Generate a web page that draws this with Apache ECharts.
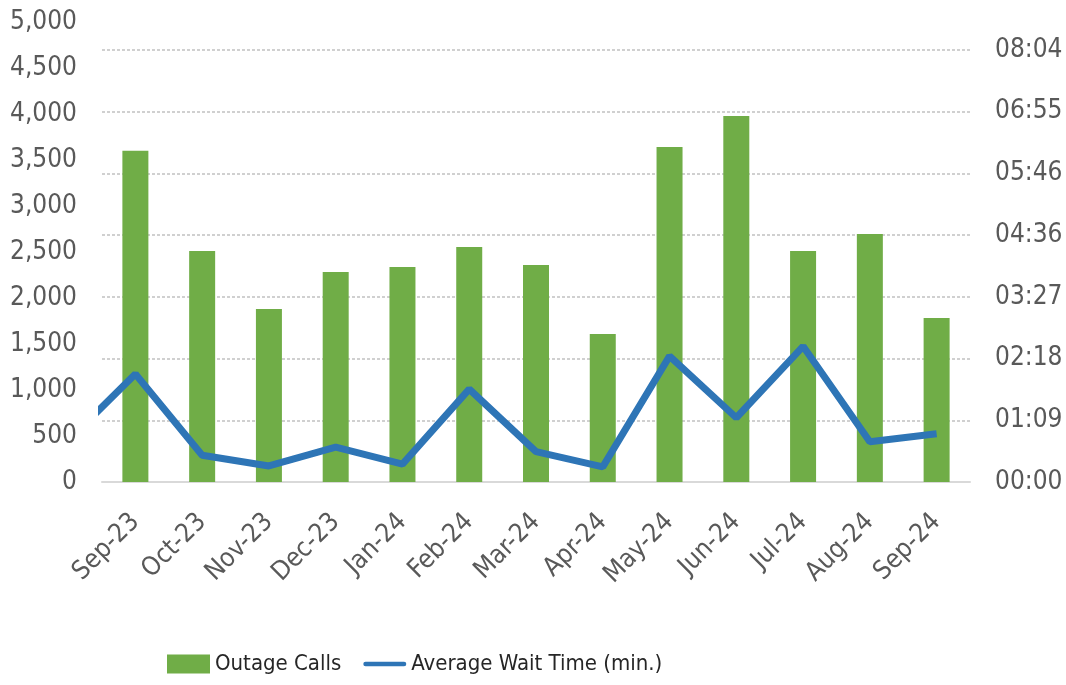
<!DOCTYPE html>
<html>
<head>
<meta charset="utf-8">
<script src="https://cdn.jsdelivr.net/npm/echarts@6/dist/echarts.min.js"></script>
<style>
  html, body { margin: 0; padding: 0; background: #fff; }
  #chart { width: 1066px; height: 685px; }
</style>
</head>
<body>
<div id="chart"></div>
<script>
  // months shown on the axis
  var months = ['Sep-23', 'Oct-23', 'Nov-23', 'Dec-23', 'Jan-24', 'Feb-24', 'Mar-24',
                'Apr-24', 'May-24', 'Jun-24', 'Jul-24', 'Aug-24', 'Sep-24'];
  // outage calls per month (left axis)
  var outageCalls = [3600, 2510, 1880, 2283, 2337, 2554, 2359, 1609, 3641, 3978, 2511, 2696, 1783];
  // average wait time in seconds (right axis); first value is Aug-23, cut off at the left edge
  var waitPrev = 47;
  var waitSeconds = [121, 30, 18, 39, 20, 104, 34, 17, 141, 72, 152, 45, 54];
  // right axis tick labels (mm:ss)
  var waitTicks = ['00:00', '01:09', '02:18', '03:27', '04:36', '05:46', '06:55', '08:04'];
  var waitMax = 484;

  var linePoints = [[-1, waitPrev]];
  waitSeconds.forEach(function (v, i) { linePoints.push([i, v]); });

  var font = "'DejaVu Sans Condensed', Roboto, sans-serif";
  var gray = '#595959';

  var myChart = echarts.init(document.getElementById('chart'));
  myChart.setOption({
    animation: false,
    textStyle: { fontFamily: font },
    grid: [
      { left: 102, right: 96, top: 22, bottom: 203 },
      { left: 102, right: 96, top: 50, bottom: 203 }
    ],
    legend: {
      left: 162,
      top: 648,
      itemGap: 22,
      itemWidth: 43,
      itemHeight: 19,
      textStyle: { fontFamily: font, fontSize: 22, color: '#262626' },
      data: [
        { name: 'Outage Calls', icon: 'rect' },
        { name: 'Average Wait Time (min.)', icon: 'path://M2,0 H45 A2,2 0 0 1 45,5 H2 A2,2 0 0 1 2,0 Z' }
      ]
    },
    xAxis: [
      {
        type: 'category',
        gridIndex: 0,
        data: months,
        axisLine: { lineStyle: { color: '#d9d9d9', width: 2 } },
        axisTick: { length: 10, lineStyle: { color: '#d9d9d9', width: 2 } },
        axisLabel: { rotate: 45, margin: 36, fontSize: 26, color: gray, fontFamily: font }
      },
      {
        type: 'value',
        gridIndex: 1,
        min: -0.5,
        max: 12.5,
        show: false
      }
    ],
    yAxis: [
      {
        type: 'value',
        gridIndex: 0,
        min: 0,
        max: 5000,
        interval: 500,
        splitLine: { show: false },
        axisLine: { show: false },
        axisTick: { show: false },
        axisLabel: {
          margin: 25, fontSize: 26, color: gray, fontFamily: font,
          formatter: function (v) { return v.toLocaleString('en-US'); }
        }
      },
      {
        type: 'value',
        gridIndex: 1,
        position: 'right',
        min: 0,
        max: waitMax,
        interval: waitMax / 7,
        axisLine: { show: false },
        axisTick: { show: false },
        splitLine: { lineStyle: { color: '#d0d0d0', width: 2, type: [3, 2] } },
        axisLabel: {
          margin: 25, fontSize: 26, color: gray, fontFamily: font,
          formatter: function (v) { return waitTicks[Math.round(v / (waitMax / 7))]; }
        }
      }
    ],
    series: [
      {
        name: 'Outage Calls',
        type: 'bar',
        xAxisIndex: 0,
        yAxisIndex: 0,
        barWidth: 26,
        itemStyle: { color: '#70ad47' },
        data: outageCalls
      },
      {
        name: 'Average Wait Time (min.)',
        type: 'line',
        xAxisIndex: 1,
        yAxisIndex: 1,
        symbol: 'none',
        clip: true,
        lineStyle: { color: '#2e75b6', width: 7 },
        itemStyle: { color: '#2e75b6' },
        data: linePoints
      }
    ]
  });
</script>
</body>
</html>
